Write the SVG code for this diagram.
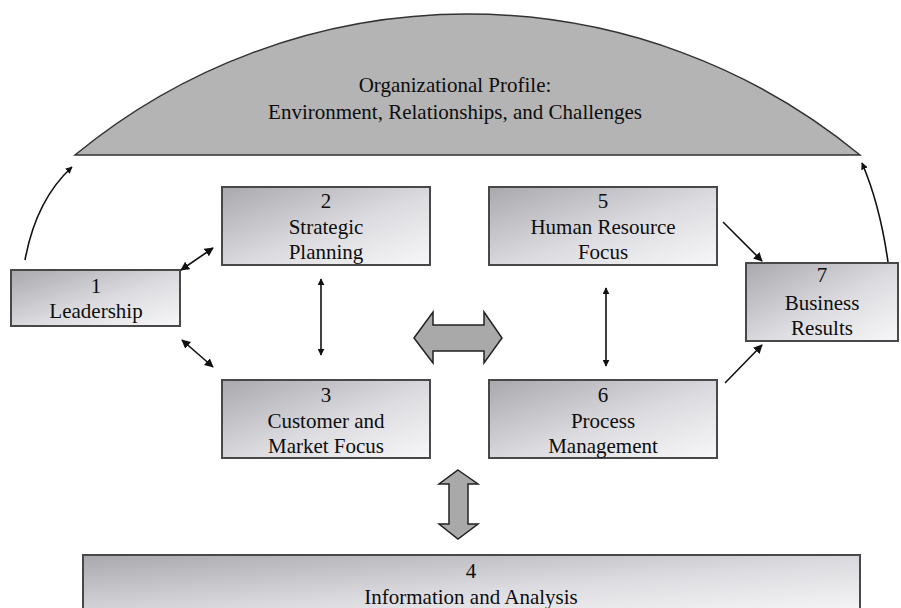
<svg xmlns="http://www.w3.org/2000/svg" width="901" height="608" viewBox="0 0 901 608">
<style>
.box{fill:url(#g);stroke:#484848;stroke-width:2}
.t{font-family:"Liberation Serif","Times New Roman",serif;font-size:21px;fill:#0d0d0d;text-anchor:middle}
.ln{fill:none;stroke:#111;stroke-width:1.6}
.big{fill:#a9a9a9;stroke:#222;stroke-width:1.5;stroke-linejoin:miter}
</style>
<defs>
<linearGradient id="g" x1="0" y1="0" x2="1" y2="1">
<stop offset="0" stop-color="#a8a8ad"/>
<stop offset="0.55" stop-color="#dcdce0"/>
<stop offset="1" stop-color="#f7f7f9"/>
</linearGradient>
<marker id="ah" viewBox="0 0 10 10" refX="9" refY="5" markerWidth="7" markerHeight="7" markerUnits="userSpaceOnUse" orient="auto-start-reverse">
<path d="M0,0 L10,5 L0,10 Z" fill="#111"/>
</marker>
<marker id="ahb" viewBox="0 0 10 10" refX="9" refY="5" markerWidth="9" markerHeight="9" markerUnits="userSpaceOnUse" orient="auto-start-reverse">
<path d="M0,0 L10,5 L0,10 Z" fill="#111"/>
</marker>
</defs>
<g id="profile">
<path d="M75,155 A617,617 0 0 1 860,155 Z" fill="#b4b4b4" stroke="#333" stroke-width="1.5"/>
<text class="t" x="455" y="92">Organizational Profile:</text>
<text class="t" x="455" y="119">Environment, Relationships, and Challenges</text>
</g>
<g id="n1">
<rect class="box" x="11" y="270" width="169" height="56"/>
<text class="t" x="96" y="293">1</text>
<text class="t" x="96" y="318">Leadership</text>
</g>
<g id="n2">
<rect class="box" x="222" y="187" width="208" height="78"/>
<text class="t" x="326" y="208">2</text>
<text class="t" x="326" y="234">Strategic</text>
<text class="t" x="326" y="259">Planning</text>
</g>
<g id="n3">
<rect class="box" x="222" y="380" width="208" height="78"/>
<text class="t" x="326" y="402">3</text>
<text class="t" x="326" y="428">Customer and</text>
<text class="t" x="326" y="453">Market Focus</text>
</g>
<g id="n5">
<rect class="box" x="489" y="187" width="228" height="78"/>
<text class="t" x="603" y="208">5</text>
<text class="t" x="603" y="234">Human Resource</text>
<text class="t" x="603" y="259">Focus</text>
</g>
<g id="n6">
<rect class="box" x="489" y="380" width="228" height="78"/>
<text class="t" x="603" y="402">6</text>
<text class="t" x="603" y="428">Process</text>
<text class="t" x="603" y="453">Management</text>
</g>
<g id="n7">
<rect class="box" x="746" y="263" width="152" height="78"/>
<text class="t" x="822" y="282">7</text>
<text class="t" x="822" y="310">Business</text>
<text class="t" x="822" y="335">Results</text>
</g>
<g id="n4">
<rect class="box" x="83" y="555" width="777" height="60"/>
<text class="t" x="471" y="578">4</text>
<text class="t" x="471" y="604">Information and Analysis</text>
</g>
<g id="connectors">
<path class="ln" d="M25,260 Q36,200 72,167" marker-end="url(#ah)"/>
<path class="ln" d="M888,262 Q880,205 862,163" marker-end="url(#ah)"/>
<line class="ln" x1="181" y1="270" x2="213" y2="248" marker-start="url(#ahb)" marker-end="url(#ahb)"/>
<line class="ln" x1="182" y1="340" x2="213" y2="367" marker-start="url(#ahb)" marker-end="url(#ahb)"/>
<line class="ln" x1="321" y1="279" x2="321" y2="355" marker-start="url(#ah)" marker-end="url(#ah)"/>
<line class="ln" x1="606" y1="288" x2="606" y2="366" marker-start="url(#ah)" marker-end="url(#ah)"/>
<line class="ln" x1="723" y1="222" x2="762" y2="261" marker-end="url(#ahb)"/>
<line class="ln" x1="725" y1="383" x2="762" y2="345" marker-end="url(#ahb)"/>
<polygon class="big" points="414,338 433,312 433,325 484,325 484,312 502,338 484,363 484,351 433,351 433,363"/>
<polygon class="big" points="458,470 478,484 468,484 468,524 478,524 458,539 439,524 449,524 449,484 439,484"/>
</g>
</svg>
